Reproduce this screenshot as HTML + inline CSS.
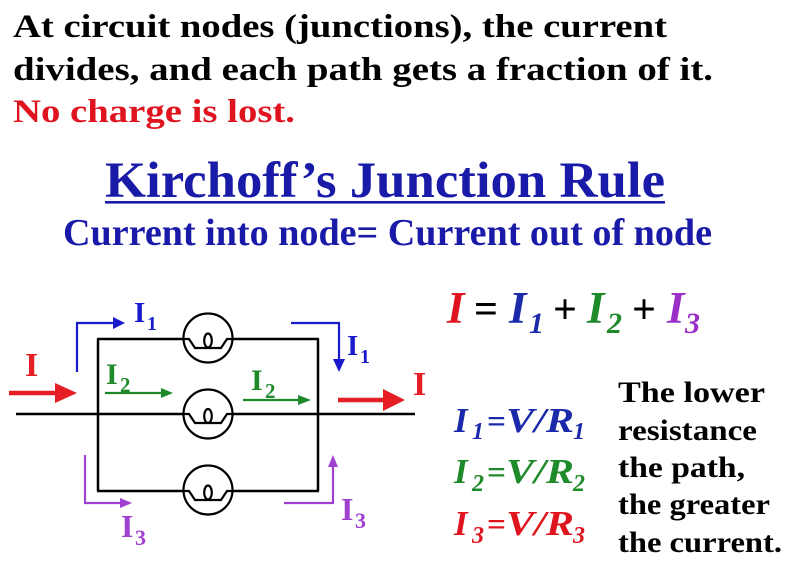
<!DOCTYPE html>
<html><head><meta charset="utf-8"><style>
html,body{margin:0;padding:0;background:#fff;}
svg{display:block;}
text{font-family:"Liberation Serif",serif;font-weight:bold;}
</style></head><body>
<svg width="800" height="583" viewBox="0 0 800 583" xmlns="http://www.w3.org/2000/svg">
<rect width="800" height="583" fill="#fff"/>
<!-- top text -->
<text x="13" y="37" font-size="33" fill="#000" textLength="654" lengthAdjust="spacingAndGlyphs">At circuit nodes (junctions), the current</text>
<text x="13" y="80" font-size="33" fill="#000" textLength="700" lengthAdjust="spacingAndGlyphs">divides, and each path gets a fraction of it.</text>
<text x="13" y="122" font-size="33" fill="#e0141e" textLength="282" lengthAdjust="spacingAndGlyphs">No charge is lost.</text>
<!-- title -->
<text x="105" y="197" font-size="51" fill="#1a1aa8" textLength="560" lengthAdjust="spacingAndGlyphs">Kirchoff’s Junction Rule</text>
<rect x="105" y="201" width="560" height="2.6" fill="#1a1aa8"/>
<text x="63" y="245" font-size="38" fill="#1a1aa8" textLength="649" lengthAdjust="spacingAndGlyphs">Current into node= Current out of node</text>

<!-- circuit wires -->
<g stroke="#000" stroke-width="2.5" fill="none">
<line x1="98" y1="339" x2="98" y2="491"/>
<line x1="318" y1="339" x2="318" y2="491"/>
<line x1="97" y1="339" x2="184" y2="339"/>
<line x1="232" y1="339" x2="319" y2="339"/>
<line x1="16" y1="414" x2="184" y2="414"/>
<line x1="232" y1="414" x2="415" y2="414"/>
<line x1="97" y1="491" x2="184" y2="491"/>
<line x1="232" y1="491" x2="319" y2="491"/>
</g>
<!-- bulbs -->
<g stroke="#000" stroke-width="2.2" fill="none">
<g transform="translate(208,338)">
<circle cx="0" cy="0" r="24.5" fill="#fff"/>
<polyline points="-24,1 -19,1 -13,10 13,10 19,1 24,1"/>
<ellipse cx="0" cy="2.5" rx="3.8" ry="7"/>
</g>
<g transform="translate(208,414)">
<circle cx="0" cy="0" r="24.5" fill="#fff"/>
<polyline points="-24,0 -19,0 -13,9 13,9 19,0 24,0"/>
<ellipse cx="0" cy="2" rx="3.8" ry="7"/>
</g>
<g transform="translate(208,490)">
<circle cx="0" cy="0" r="24.5" fill="#fff"/>
<polyline points="-24,1 -19,1 -13,10 13,10 19,1 24,1"/>
<ellipse cx="0" cy="2.5" rx="3.8" ry="7"/>
</g>
</g>

<!-- red arrows -->
<line x1="9" y1="393" x2="60" y2="393" stroke="#e61e25" stroke-width="4.5"/>
<polygon points="55,383 77,393 55,403" fill="#e61e25"/>
<line x1="338" y1="400" x2="388" y2="400" stroke="#e61e25" stroke-width="4.5"/>
<polygon points="383,389 405,400 383,411" fill="#e61e25"/>
<text x="25" y="376" font-size="34" fill="#e61e25">I</text>
<text x="413" y="395" font-size="34" fill="#e61e25">I</text>

<!-- blue arrows -->
<polyline points="77,372 77,323 115,323" stroke="#1a1acc" stroke-width="2.2" fill="none"/>
<polygon points="113,317 125,323 113,329" fill="#1a1acc"/>
<polyline points="291,323 339,323 339,362" stroke="#1a1acc" stroke-width="2.2" fill="none"/>
<polygon points="333,359 339,372 345,359" fill="#1a1acc"/>
<text x="134" y="322" font-size="29" fill="#1a1acc">I</text>
<text x="147" y="330" font-size="20" fill="#1a1acc">1</text>
<text x="347" y="355" font-size="29" fill="#1a1acc">I</text>
<text x="360" y="363" font-size="20" fill="#1a1acc">1</text>

<!-- green arrows -->
<line x1="105" y1="393" x2="163" y2="393" stroke="#1f8a2a" stroke-width="2.2"/>
<polygon points="161,388 173,393 161,398" fill="#1f8a2a"/>
<line x1="243" y1="400" x2="300" y2="400" stroke="#1f8a2a" stroke-width="2.2"/>
<polygon points="298,395 311,400 298,405" fill="#1f8a2a"/>
<text x="106" y="384" font-size="30" fill="#1f8a2a">I</text>
<text x="120" y="392" font-size="21" fill="#1f8a2a">2</text>
<text x="251" y="390" font-size="30" fill="#1f8a2a">I</text>
<text x="265" y="398" font-size="21" fill="#1f8a2a">2</text>

<!-- purple arrows -->
<polyline points="85,455 85,503 122,503" stroke="#a040d0" stroke-width="2.2" fill="none"/>
<polygon points="120,498 132,503 120,508" fill="#a040d0"/>
<polyline points="284,503 333,503 333,466" stroke="#a040d0" stroke-width="2.2" fill="none"/>
<polygon points="328,467 333,455 338,467" fill="#a040d0"/>
<text x="121" y="537" font-size="32" fill="#a040d0">I</text>
<text x="135" y="545" font-size="22" fill="#a040d0">3</text>
<text x="341" y="520" font-size="32" fill="#a040d0">I</text>
<text x="355" y="528" font-size="22" fill="#a040d0">3</text>

<!-- main equation -->
<g font-style="italic">
<text x="447" y="323" font-size="45" fill="#e0141e">I</text>
<text x="509" y="323" font-size="45" fill="#1a2aaa">I</text>
<text x="529" y="333" font-size="30" fill="#1a2aaa">1</text>
<text x="587" y="323" font-size="45" fill="#1f8a2a">I</text>
<text x="607" y="333" font-size="30" fill="#1f8a2a">2</text>
<text x="667" y="323" font-size="45" fill="#9b30c8">I</text>
<text x="685" y="333" font-size="30" fill="#9b30c8">3</text>
</g>
<text x="474" y="323" font-size="42" fill="#000" textLength="24" lengthAdjust="spacingAndGlyphs">=</text>
<text x="553" y="323" font-size="42" fill="#000" textLength="24" lengthAdjust="spacingAndGlyphs">+</text>
<text x="632" y="323" font-size="42" fill="#000" textLength="24" lengthAdjust="spacingAndGlyphs">+</text>

<!-- V/R equations -->
<g font-style="italic">
<text x="454" y="432" font-size="35" fill="#1a2aaa">I</text>
<text x="472" y="439" font-size="24" fill="#1a2aaa">1</text>
<text x="506" y="432" font-size="35" fill="#1a2aaa" textLength="68" lengthAdjust="spacingAndGlyphs">V/R</text>
<text x="573" y="439" font-size="24" fill="#1a2aaa">1</text>

<text x="454" y="483" font-size="35" fill="#1f8a2a">I</text>
<text x="472" y="491" font-size="24" fill="#1f8a2a">2</text>
<text x="506" y="483" font-size="35" fill="#1f8a2a" textLength="68" lengthAdjust="spacingAndGlyphs">V/R</text>
<text x="573" y="491" font-size="24" fill="#1f8a2a">2</text>

<text x="454" y="535" font-size="35" fill="#e0141e">I</text>
<text x="472" y="543" font-size="24" fill="#e0141e">3</text>
<text x="506" y="535" font-size="35" fill="#e0141e" textLength="68" lengthAdjust="spacingAndGlyphs">V/R</text>
<text x="573" y="543" font-size="24" fill="#e0141e">3</text>
</g>
<text x="487" y="432" font-size="32" fill="#1a2aaa" textLength="19" lengthAdjust="spacingAndGlyphs">=</text>
<text x="487" y="483" font-size="32" fill="#1f8a2a" textLength="19" lengthAdjust="spacingAndGlyphs">=</text>
<text x="487" y="535" font-size="32" fill="#e0141e" textLength="19" lengthAdjust="spacingAndGlyphs">=</text>

<!-- right explanation -->
<g font-size="30" fill="#000">
<text x="618" y="402" textLength="147" lengthAdjust="spacingAndGlyphs">The lower</text>
<text x="618" y="440" textLength="139" lengthAdjust="spacingAndGlyphs">resistance</text>
<text x="618" y="477" textLength="127" lengthAdjust="spacingAndGlyphs">the path,</text>
<text x="618" y="514" textLength="152" lengthAdjust="spacingAndGlyphs">the greater</text>
<text x="618" y="552" textLength="164" lengthAdjust="spacingAndGlyphs">the current.</text>
</g>
</svg>
</body></html>
